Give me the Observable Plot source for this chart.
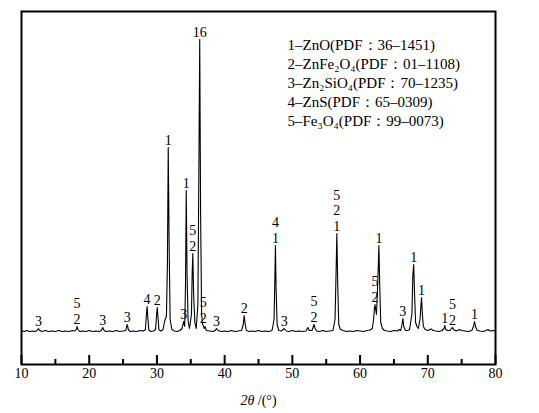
<!DOCTYPE html>
<html><head><meta charset="utf-8">
<script src="https://cdn.jsdelivr.net/npm/d3@7"></script>
<script src="https://cdn.jsdelivr.net/npm/@observablehq/plot@0.6"></script>
<style>body{margin:0;background:#fff} svg{display:block}</style>
</head><body><div id="chart"></div>
<script>
// XRD pattern (2θ in degrees, intensity in a.u.)
const twoTheta = [
10.0,10.4,10.8,11.2,11.6,12.0,12.3,12.5,12.7,13.0,13.5,14.0,14.5,15.0,15.5,16.0,16.5,17.0,17.5,17.9,
18.1,18.2,18.35,18.6,19.0,19.5,20.0,20.5,21.0,21.5,21.8,22.0,22.2,22.5,23.0,23.5,24.0,24.5,25.0,25.4,
25.6,25.8,26.1,26.5,27.0,27.5,28.0,28.3,28.45,28.55,28.65,28.8,29.1,29.5,29.8,29.95,30.05,30.15,30.3,30.6,
30.9,31.1,31.25,31.4,31.55,31.67,31.8,31.95,32.2,32.6,33.0,33.4,33.7,33.95,34.1,34.22,34.33,34.45,34.6,34.8,
35.1,35.2,35.3,35.42,35.6,35.8,36.05,36.2,36.32,36.45,36.6,36.75,36.85,36.95,37.1,37.3,37.8,38.3,38.6,38.8,
39.0,39.5,40.0,40.5,41.0,41.5,42.0,42.5,42.75,42.88,43.0,43.2,43.6,44.0,44.5,45.0,45.5,46.0,46.5,47.0,
47.3,47.4,47.5,47.6,47.75,48.0,48.4,48.8,49.1,49.5,50.0,50.5,51.0,51.5,52.0,52.3,52.5,52.9,53.1,53.2,
53.35,53.6,54.0,54.5,55.0,55.5,56.0,56.3,56.45,56.57,56.7,56.85,57.1,57.5,58.0,58.5,59.0,59.5,60.0,60.5,
61.0,61.5,61.8,62.0,62.1,62.2,62.3,62.42,62.55,62.65,62.78,62.9,63.05,63.3,63.6,64.0,64.5,65.0,65.5,65.8,
66.0,66.2,66.32,66.45,66.7,67.0,67.3,67.65,67.8,67.92,68.05,68.2,68.4,68.6,68.85,69.0,69.08,69.2,69.35,69.6,
70.0,70.5,70.8,71.2,71.7,72.1,72.4,72.52,72.65,72.9,73.3,73.55,73.65,73.8,74.2,74.7,75.0,75.5,76.0,76.5,
76.75,76.9,77.05,77.3,77.7,78.2,78.6,78.9,79.2,79.6,80.0
];
const intensity = [
34,33,34,33,33.5,33,34,36,34,33,34,33,33.5,33,34,33,33.5,33,34,33.5,
35,38,35,33,33.5,33,34,33,33.5,33,34,37,34,33,33.5,33,34,33,33.5,34,
40,34.5,33,33.5,33,34,33.5,35,50,58,48,34.5,33,33.5,35,50,57,48,34.5,33.5,
35,42,46,48,100,217,120,45,35,33.5,33,34,36,43,38,80,174,90,44,36,
50,90,111,70,42,36,60,200,325,150,50,40,39,36,38,34,33.5,33,34,36,
34,33,33.5,33,34,33,33.5,34,40,49,42,34,33,33.5,33,34,33,33.5,33,34,
45,80,119,75,40,34,33.5,36,33.5,33,34,33,33.5,33,33.5,37,34,34,38,40,
36,33.5,33,34,33,33.5,34,45,90,131,80,40,35,34,33,33.5,33,34,33.5,33,
34,34.5,36,45,55,60,55,50,70,90,119,80,42,36,34,33.5,33,34,33.5,35,
34,40,46,38,34,34,35,50,90,100,70,42,38,36,45,60,67,50,38,35,
34,35.5,34,33.5,33,34,36,39,35,34,34,36.5,37,35,33.5,35,34,33.5,33,34,
38,43,38,34,33.5,33,34,35,33.5,34,33.5
];

// Peak labels (phase numbers)
const peakPos = [12.5,18.2,22.0,25.6,28.55,30.05,31.67,33.95,34.33,35.3,36.32,36.85,38.8,42.88,47.5,48.8,53.2,56.57,62.2,62.78,66.32,67.92,69.08,72.52,73.65,76.9];
const peakLabels = ["3","5\n2","3","3","4","2","1","3","1","5\n2","16","5\n2","3","2","4\n1","3","5\n2","5\n2\n1","5\n2","1","3","1","1","1","5\n2","1"];

const legendLines = [
  "1–ZnO(PDF：36–1451)",
  "2–ZnFe₂O₄(PDF：01–1108)",
  "3–Zn₂SiO₄(PDF：70–1235)",
  "4–ZnS(PDF：65–0309)",
  "5–Fe₃O₄(PDF：99–0073)"
];

const majorTicks = [10,20,30,40,50,60,70,80];
const minorTicks = [15,25,35,45,55,65,75];
const xDomain = [10, 80];
const yDomain = [0, 353];
const xTitleItalic = "2θ";
const xTitleRest = " /(°)";

const pattern = twoTheta.map((x, i) => ({x, y: intensity[i]}));
const labels = peakPos.map((x, i) => {
  const j = d3.leastIndex(twoTheta, t => Math.abs(t - x));
  return {x, y: intensity[j], text: peakLabels[i]};
});

const font = "'Liberation Serif', 'Times New Roman', serif";

const svg = Plot.plot({
  width: 539,
  height: 413,
  marginLeft: 21,
  marginRight: 44,
  marginTop: 11,
  marginBottom: 49,
  style: {fontFamily: font, fontSize: "14px", background: "#fff", color: "#000"},
  x: {domain: xDomain},
  y: {domain: yDomain, axis: null},
  marks: [
    Plot.line(pattern, {x: "x", y: "y", stroke: "#000", strokeWidth: 1.1}),
    Plot.text(labels, {x: "x", y: "y", text: "text", lineAnchor: "bottom", dy: -3, fontSize: 14, fontFamily: font, lineHeight: 1.1, fill: "#000"}),
    Plot.axisX({ticks: majorTicks, tickSize: -9, label: null, stroke: "#000", strokeWidth: 2, fill: "none", tickFormat: () => ""}),
    Plot.axisX({ticks: minorTicks, tickSize: -5, label: null, stroke: "#000", strokeWidth: 2, fill: "none", tickFormat: () => ""}),
    Plot.text(majorTicks, {x: d => d, text: d => String(d), frameAnchor: "bottom", dy: 13, fontSize: 14, fontFamily: font, fill: "#000"}),
    Plot.frame({stroke: "#000", strokeWidth: 2}),
    Plot.text([legendLines.join("\n")], {text: d => d, frameAnchor: "top-left", dx: 266, dy: 25, lineAnchor: "top", textAnchor: "start", lineHeight: 1.27, fontSize: 15, fontFamily: font, fill: "#000"}),
    Plot.text([xTitleItalic + xTitleRest], {text: d => d, frameAnchor: "bottom", dy: 36, lineAnchor: "middle", fontSize: 14, fontFamily: font, fill: "#000"})
  ]
});

d3.select(svg).selectAll("text").filter(function() { return this.textContent === xTitleItalic + xTitleRest; })
  .each(function() {
    const el = d3.select(this);
    el.text("");
    el.append("tspan").attr("font-style", "italic").text(xTitleItalic);
    el.append("tspan").text(xTitleRest);
  });

document.getElementById("chart").appendChild(svg);
</script>
</body></html>
